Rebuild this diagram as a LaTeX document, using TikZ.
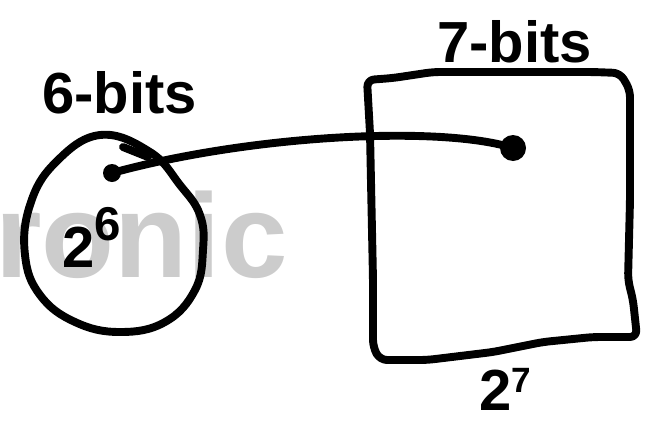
\documentclass[tikz,border=0pt]{standalone}
\usepackage{fontspec}
\setmainfont{Liberation Sans}
\definecolor{wmgray}{RGB}{204,204,204}
\begin{document}
\begin{tikzpicture}[x=0.02cm,y=-0.02cm, line cap=round, line join=round,
  stroke/.style={line width=4.5pt, draw=black},
  hand/.style={font=\bfseries\fontsize{33}{33}\selectfont, inner sep=0pt},
  dot/.style={circle, fill=black, inner sep=0pt}]
\useasboundingbox (0,0) rectangle (645,420);
% watermark
\node[anchor=base west, inner sep=0pt, text=wmgray, font=\bfseries\fontsize{68}{68}\selectfont] (wm) at (-5,277) {ronic};
% circle (6-bits set)
\draw[stroke] plot[smooth cycle, tension=0.7] coordinates {(100,135) (150,152) (180,185) (200,215) (203,250) (195,290) (165,322) (120,332) (75,322) (40,295) (25,255) (30,205) (55,163)};
% square (7-bits set)
\draw[stroke, rounded corners=4pt] (367,80) -- (393,78) -- (433,72) -- (593,72) -- (620,73) -- (630,90) -- (630,200) -- (628,280) -- (633,300) -- (637,337) -- (593,337) -- (543,342) -- (493,352) -- (427,360) -- (380,360) -- (373,347) -- (373,280) -- (370,133) -- cycle;
% dots
\node[dot, minimum size=0.36cm] (d1) at (112,173) {};
\node[dot, minimum size=0.52cm] (d2) at (513,148) {};
% connector
\draw[stroke] (d1.center) .. controls (250,135) and (440,125) .. (d2.center);
\draw[stroke] (123,147) -- (148,157);
% labels
\node[hand, anchor=base west] (l6) at (42,113) {6-bits};
\node[hand, anchor=base west] (l7) at (437,62) {7-bits};
\node[hand, anchor=base west] (p6) at (62,267) {2\raisebox{15pt}{\fontsize{27}{27}\selectfont 6}};
\node[hand, anchor=base west] (p7) at (479,410) {2\raisebox{10pt}{\fontsize{20}{20}\selectfont 7}};
\end{tikzpicture}
\end{document}
